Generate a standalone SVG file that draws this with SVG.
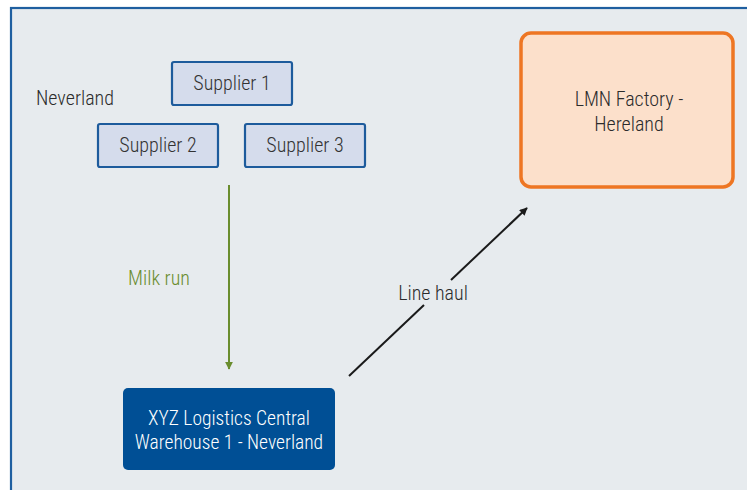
<svg xmlns="http://www.w3.org/2000/svg" width="747" height="490" viewBox="0 0 747 490">
  <defs>
    <style>
      .lbl { font-family: "Liberation Sans Narrow", "Roboto Condensed", "Liberation Sans", sans-serif; font-size: 20px; font-weight: 300; fill: #2b2b2b; text-anchor: middle; }
      .supplier rect { fill: #d5dcec; stroke: #1d5b9c; stroke-width: 2.2; }
      .sup-text { font-family: "Liberation Sans Narrow", "Roboto Condensed", "Liberation Sans", sans-serif; font-size: 20px; font-weight: 300; fill: #333; text-anchor: middle; }
      .white { fill: #ffffff; font-size: 19.5px; }
    </style>
    <marker id="head-green" viewBox="0 0 10 10" refX="9" refY="5" markerWidth="4" markerHeight="4" orient="auto" markerUnits="strokeWidth">
      <path d="M0,0 L10,5 L0,10 z" fill="#6a8d2e"/>
    </marker>
    <marker id="head-black" viewBox="0 0 10 10" refX="9" refY="5" markerWidth="4" markerHeight="4" orient="auto" markerUnits="strokeWidth">
      <path d="M0,0 L10,5 L0,10 z" fill="#1a1a1a"/>
    </marker>
  </defs>

  <!-- page -->
  <rect x="0" y="0" width="747" height="490" fill="#ffffff"/>
  <rect x="11" y="8" width="740" height="490" fill="#e7ebee" stroke="#1f5fa0" stroke-width="2.2"/>

  <text class="lbl" x="75" y="105">Neverland</text>

  <g id="supplier-1" class="supplier">
    <rect x="172" y="62" width="120" height="43" rx="2"/>
    <text class="sup-text" x="232" y="90">Supplier 1</text>
  </g>
  <g id="supplier-2" class="supplier">
    <rect x="98" y="124" width="120" height="43" rx="2"/>
    <text class="sup-text" x="158" y="152">Supplier 2</text>
  </g>
  <g id="supplier-3" class="supplier">
    <rect x="245" y="124" width="120" height="43" rx="2"/>
    <text class="sup-text" x="305" y="152">Supplier 3</text>
  </g>

  <g id="factory">
    <rect x="521" y="33" width="212" height="154" rx="10" fill="#fce0cb" stroke="#ee7623" stroke-width="3.5"/>
    <text class="lbl" x="629" y="106">LMN Factory -</text>
    <text class="lbl" x="629" y="131">Hereland</text>
  </g>

  <g id="warehouse">
    <rect x="123" y="388" width="212" height="82" rx="5" fill="#004f95"/>
    <text class="lbl white" x="229" y="425">XYZ Logistics Central</text>
    <text class="lbl white" x="229" y="449">Warehouse 1 - Neverland</text>
  </g>

  <g id="connectors">
    <line x1="229" y1="185" x2="229" y2="369" stroke="#6a8d2e" stroke-width="2" marker-end="url(#head-green)"/>
    <text class="lbl" x="159" y="285" style="fill:#6a8d2e">Milk run</text>

    <line x1="349" y1="376" x2="424" y2="305" stroke="#1a1a1a" stroke-width="2"/>
    <line x1="451" y1="280" x2="527" y2="208" stroke="#1a1a1a" stroke-width="2" marker-end="url(#head-black)"/>
    <text class="lbl" x="433" y="300">Line haul</text>
  </g>
</svg>
